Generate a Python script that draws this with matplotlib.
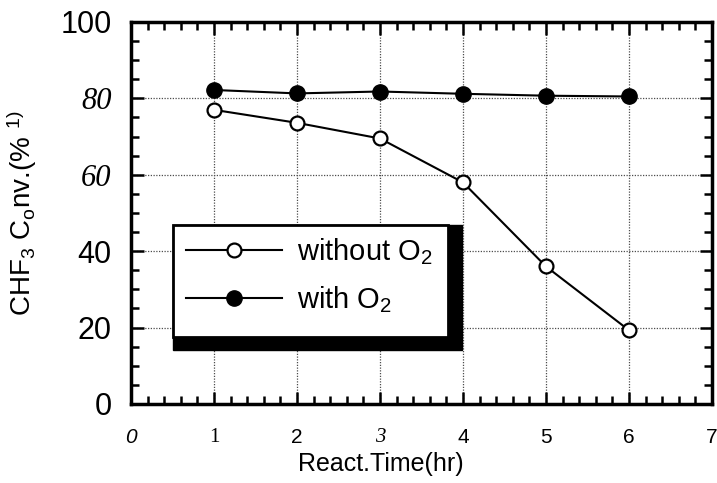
import matplotlib
matplotlib.use("Agg")
import matplotlib.pyplot as plt
from matplotlib.patches import Rectangle
from matplotlib.ticker import MultipleLocator

plt.rcParams['font.family'] = ['Liberation Sans', 'DejaVu Sans']
plt.rcParams['mathtext.default'] = 'regular'

# data
hours = [1, 2, 3, 4, 5, 6]
conv_without_o2 = [77, 73.6, 69.5, 58, 36, 19.3]
conv_with_o2 = [82.2, 81.3, 81.8, 81.2, 80.7, 80.5]

x_ticks = [0, 1, 2, 3, 4, 5, 6, 7]
y_ticks = [0, 20, 40, 60, 80, 100]
# the scanned original mixes typefaces in its tick labels
x_tick_fonts = [('Liberation Sans', 'italic'), ('Liberation Serif', 'normal'),
                ('Liberation Sans', 'normal'), ('Liberation Serif', 'italic'),
                ('Liberation Sans', 'normal'), ('Liberation Sans', 'normal'),
                ('Liberation Sans', 'normal'), ('Liberation Sans', 'normal')]
y_tick_fonts = [('Liberation Sans', 'normal'), ('Liberation Sans', 'normal'),
                ('Liberation Sans', 'normal'), ('Liberation Serif', 'italic'),
                ('Liberation Serif', 'italic'), ('Liberation Sans', 'normal')]

fig = plt.figure(figsize=(7.17, 4.83), dpi=100)
ax = fig.add_axes([0.1827, 0.1636, 0.8103, 0.7909])

# grid
for x in hours:
    ax.axvline(x, color='0.3', lw=0.9, ls=(0, (1, 1.2)), zorder=1)
for y in [20, 40, 60, 80]:
    ax.axhline(y, color='0.3', lw=0.9, ls=(0, (1, 1.2)), zorder=1)

ax.plot(hours, conv_without_o2, color='k', lw=1.5, marker='o', ms=10,
        mfc='white', mec='k', mew=1.6, zorder=3, label='without O$_2$')
ax.plot(hours, conv_with_o2, color='k', lw=1.5, marker='o', ms=11,
        mfc='k', mec='k', zorder=3, label='with O$_2$')

ax.set_xlim(0, 7)
ax.set_ylim(0, 100)
ax.set_xticks(x_ticks)
ax.set_yticks(y_ticks)
ax.xaxis.set_minor_locator(MultipleLocator(0.2))
ax.yaxis.set_minor_locator(MultipleLocator(5))
ax.tick_params(which='both', direction='in', top=True, right=True, width=1.8)
ax.tick_params(which='major', length=9)
ax.tick_params(which='minor', length=6)
ax.tick_params(axis='x', which='major', pad=17, labelsize=15)
ax.tick_params(axis='y', which='major', pad=14, labelsize=22)
for s in ax.spines.values():
    s.set_linewidth(2.5)

ax.set_xticklabels([str(t) for t in x_ticks])
ax.set_yticklabels([str(t) for t in y_ticks])
for lab, (fam, sty) in zip(ax.get_xticklabels(), x_tick_fonts):
    lab.set_family(fam)
    lab.set_style(sty)
for lab, (fam, sty) in zip(ax.get_yticklabels(), y_tick_fonts):
    lab.set_family(fam)
    lab.set_style(sty)

ax.set_xlabel('React.Time(hr)', fontsize=18)
ax.xaxis.set_label_coords(0.43, -0.125)
ax.set_ylabel('CHF$_3$ C$_o$nv.(% $^{1)}$', fontsize=20)
ax.yaxis.set_label_coords(-0.158, 0.5)

# legend box with heavy drop shadow
ax.add_patch(Rectangle((0.0723, 0.1414), 0.4974, 0.3272, transform=ax.transAxes,
                       facecolor='k', edgecolor='k', zorder=4))
ax.add_patch(Rectangle((0.0723, 0.1754), 0.4733, 0.2932, transform=ax.transAxes,
                       facecolor='white', edgecolor='k', lw=2, zorder=5))
leg = ax.legend(loc='upper left', bbox_to_anchor=(0.095, 0.44), frameon=False,
                fontsize=21, handlelength=3.3, handletextpad=0.5,
                labelspacing=0.6, borderpad=0, borderaxespad=0)
leg.set_zorder(6)

fig.savefig('out.png', dpi=100)
